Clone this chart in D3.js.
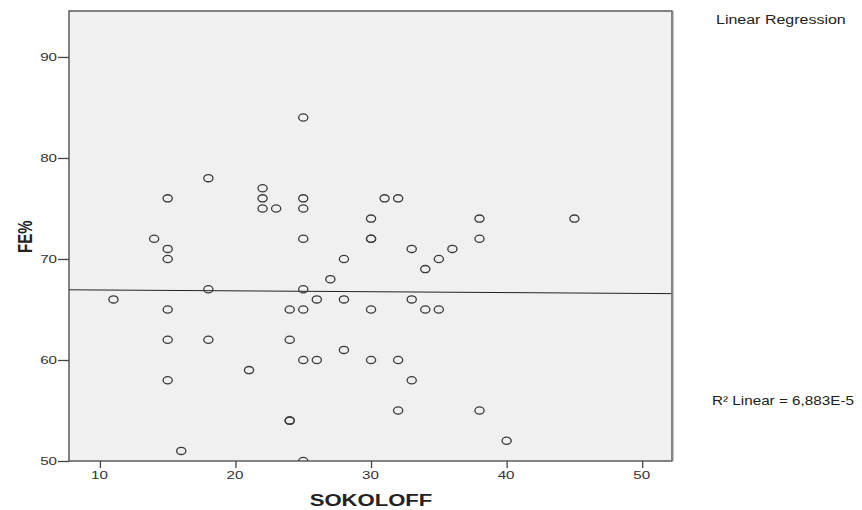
<!DOCTYPE html>
<html><head><meta charset="utf-8">
<script src="https://cdn.jsdelivr.net/npm/d3@7"></script>
<style>body{margin:0;background:#fff}svg{display:block}text{font-family:"Liberation Sans",Arial,sans-serif}</style>
</head><body>
<svg id="c" width="862" height="510"></svg>
<script>
const sokoloff = [11,14,15,15,15,15,15,15,16,18,18,18,21,22,22,22,23,24,24,24,24,25,25,25,25,25,25,25,25,26,26,27,28,28,28,30,30,30,30,30,31,32,32,32,33,33,33,34,34,35,35,36,38,38,38,40,45];
const fePct    = [66,72,76,71,70,65,62,58,51,78,67,62,59,77,76,75,75,65,62,54,54,84,76,75,72,67,65,60,50,66,60,68,70,66,61,74,72,72,65,60,76,76,60,55,71,66,58,69,65,70,65,71,74,72,55,52,74];
const xTicks = [10,20,30,40,50];
const yTicks = [50,60,70,80,90];
const xLabel = "SOKOLOFF", yLabel = "FE%";
const legendTitle = "Linear Regression", r2Text = "R\u00B2 Linear = 6,883E-5";

const SX = 1.32; // horizontal stretch of the original rendering
const svg = d3.select("#c");
const L = 69, T = 11, R = 672, B = 461;
const x = d3.scaleLinear().domain([7.72, 52.2]).range([L, R]);
const y = d3.scaleLinear().domain([50, 94.55]).range([B, T]);

svg.append("rect").attr("x", L).attr("y", T).attr("width", R - L).attr("height", B - T).attr("fill", "#f0f0f0");

// regression from data
const n = sokoloff.length;
const mx = d3.mean(sokoloff), my = d3.mean(fePct);
let sxy = 0, sxx = 0;
for (let i = 0; i < n; i++) { sxy += (sokoloff[i]-mx)*(fePct[i]-my); sxx += (sokoloff[i]-mx)**2; }
const slope = sxy / sxx, icpt = my - slope * mx;
const xd = x.domain();
svg.append("line").attr("x1", x(xd[0])).attr("x2", x(xd[1]))
  .attr("y1", y(icpt + slope * xd[0])).attr("y2", y(icpt + slope * xd[1]))
  .attr("stroke", "#222").attr("stroke-width", 1);

svg.append("clipPath").attr("id", "clip").append("rect").attr("x", L).attr("y", T).attr("width", R - L).attr("height", B - T);
const g = svg.append("g").attr("clip-path", "url(#clip)");
g.selectAll("ellipse").data(sokoloff.map((v, i) => [v, fePct[i]])).enter().append("ellipse")
  .attr("cx", d => x(d[0])).attr("cy", d => y(d[1])).attr("rx", 4.6).attr("ry", 3.6)
  .attr("fill", "none").attr("stroke", "#3a3a3a").attr("stroke-width", 1.3);

// frame
svg.append("rect").attr("x", L).attr("y", T).attr("width", R - L).attr("height", B - T)
  .attr("fill", "none").attr("stroke", "#444").attr("stroke-width", 1.3);
svg.append("line").attr("x1", R + 0.5).attr("x2", R + 0.5).attr("y1", T).attr("y2", B).attr("stroke", "#888").attr("stroke-width", 2);

const xa = svg.append("g").attr("transform", `translate(0,${B})`)
  .call(d3.axisBottom(x).tickValues(xTicks).tickSize(7).tickPadding(3).tickFormat(d3.format("d")));
xa.select(".domain").remove();
xa.selectAll("line").attr("stroke", "#444").attr("stroke-width", 1.3);
xa.selectAll("text").attr("font-size", 11.5).attr("fill", "#333").attr("transform", `translate(-1,0) scale(${SX},1)`);

const ya = svg.append("g").attr("transform", `translate(${L},0)`)
  .call(d3.axisLeft(y).tickValues(yTicks).tickSize(11).tickPadding(1).tickFormat(d3.format("d")));
ya.select(".domain").remove();
ya.selectAll("line").attr("stroke", "#444").attr("stroke-width", 1.3);
ya.selectAll("text").attr("font-size", 11.5).attr("fill", "#333").attr("x", -12 / SX).attr("transform", `scale(${SX},1)`);

svg.append("text").attr("transform", `translate(371,506) scale(1.38,1)`).attr("text-anchor", "middle")
  .attr("font-size", 16).attr("font-weight", "bold").attr("fill", "#222").text(xLabel);
svg.append("text").attr("transform", `translate(31.5,236.7) scale(1.4,1) rotate(-90)`).attr("text-anchor", "middle")
  .attr("font-size", 15).attr("font-weight", "bold").attr("fill", "#222").text(yLabel);

svg.append("text").attr("transform", `translate(716,24) scale(1.28,1)`).attr("font-size", 12.5).attr("fill", "#222").text(legendTitle);
svg.append("text").attr("transform", `translate(712,405) scale(1.22,1)`).attr("font-size", 12.5).attr("fill", "#222").text(r2Text);
</script>
</body></html>
